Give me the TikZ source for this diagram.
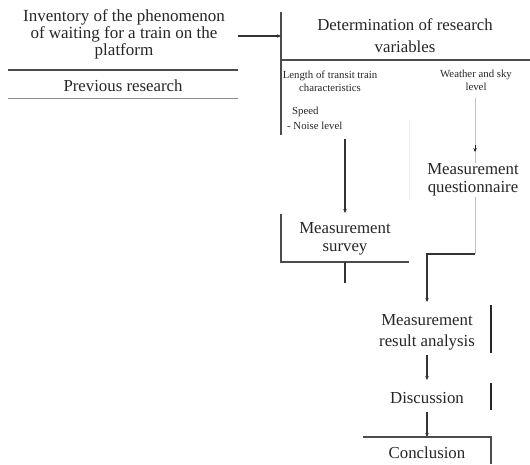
\documentclass[tikz,border=0pt]{standalone}
\usepackage{fontspec}
\setmainfont{Liberation Serif}
\usetikzlibrary{arrows.meta}
\begin{document}
\begin{tikzpicture}[x=1pt,y=-1pt,
  big/.style={font=\fontsize{16.8}{18}\selectfont, align=center, inner sep=0pt, text=black!85},
  small/.style={font=\fontsize{10.8}{13}\selectfont, align=center, inner sep=0pt, text=black!85},
  rule/.style={line width=1.3pt, draw=black!70},
  thinrule/.style={line width=0.9pt, draw=black!45},
  faint/.style={line width=0.5pt, draw=black!7},
  conn/.style={line width=1.1pt, draw=black!80, -{Stealth[length=4pt,width=3.5pt]}},
  plain/.style={line width=1.1pt, draw=black!80},
  bar/.style={line width=1.6pt, draw=black!85}]
\useasboundingbox (0,0) rectangle (530,464);

% top-left block
\node[big, font=\fontsize{17}{17}\selectfont] (inv) at (124,34) {Inventory of the phenomenon\\of waiting for a train on the\\platform};
\node[big] (prev) at (123,86) {Previous research};
\draw[rule] (8,70) -- (238,70);
\draw[thinrule] (8,98) -- (238,98);
\coordinate (invout) at (238,36);
\coordinate (detin) at (281,36);

% determination block
\node[big, font=\fontsize{16.8}{22}\selectfont] (det) at (405,36) {Determination of research\\variables};
\draw[rule] (281,12) -- (281,135);
\draw[rule] (281,60) -- (530,60);
\draw[conn] (invout) -- (detin);

\node[small] (len) at (330,81) {Length of transit train\\characteristics};
\node[small] (sky) at (476,80) {Weather and sky\\level};
\node[small, anchor=west] (speed) at (292,112) {Speed};
\node[small, anchor=west] (noise) at (287,126) {- Noise level};

% faint box edges
\draw[faint] (409,120) -- (409,200);

% questionnaire connector (faint) drawn first, text on top
\coordinate (skyout) at (475,98);
\coordinate (arrstart) at (475,145);
\coordinate (questin) at (475,152);
\coordinate (questbot) at (475,254);
\coordinate (bend) at (427,254);
\draw[line width=0.6pt, draw=black!25] (skyout) -- (questbot);
\draw[line width=0.6pt, draw=black!85, -{Stealth[length=4pt,width=3.5pt]}] (arrstart) -- (questin);
\node[big, fill=white, inner sep=1pt] (quest) at (473,180) {Measurement\\questionnaire};
\draw[conn] (questbot) -- (bend) -- (427,302);

% survey
\node[big] (survey) at (345,239) {Measurement\\survey};
\coordinate (leftout) at (345,139);
\coordinate (survin) at (345,213);
\draw[conn] (leftout) -- (survin);
\draw[rule] (281,214) -- (281,262) -- (409,262);
\coordinate (survout) at (345,262);
\coordinate (stubend) at (345,283);
\draw[plain] (survout) -- (stubend);

% analysis
\node[big, font=\fontsize{16.8}{21}\selectfont] (ana) at (427,332) {Measurement\\result analysis};
\draw[bar] (491,305) -- (491,353);
\node[big] (disc) at (427,398) {Discussion};
\draw[bar] (491,383) -- (491,410);
\draw[conn] (427,355) -- (427,380);
\draw[conn] (427,412) -- (427,437);

% conclusion
\node[big] (concl) at (427,453) {Conclusion};
\draw[rule] (363,437) -- (491,437) -- (491,464);
\end{tikzpicture}
\end{document}
